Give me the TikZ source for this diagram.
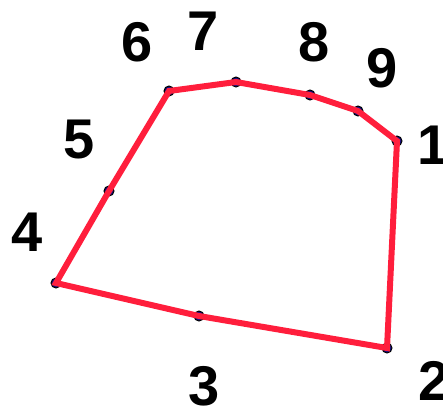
\documentclass[tikz,border=0pt]{standalone}
\usepackage{fontspec}
\setmainfont{Liberation Sans}
\definecolor{polyred}{HTML}{FF1E3C}
\definecolor{marknavy}{HTML}{10108A}
\tikzset{
  vtx/.style={circle,fill=marknavy,draw=black,line width=1pt,minimum size=10pt,inner sep=0pt},
  lbl/.style={inner sep=0pt,font=\fontsize{56}{56}\selectfont\bfseries},
  edge/.style={polyred,line width=6pt,line join=miter}
}
\begin{document}
\begin{tikzpicture}[x=1pt,y=-1pt]
\useasboundingbox (0,0) rectangle (443,412);
\node[vtx] (p1) at (397,141) {};
\node[vtx] (p2) at (387,348) {};
\node[vtx] (p3) at (199,316) {};
\node[vtx] (p4) at (56,283) {};
\node[vtx] (p5) at (109,191) {};
\node[vtx] (p6) at (169,91) {};
\node[vtx] (p7) at (236,82) {};
\node[vtx] (p8) at (310,95) {};
\node[vtx] (p9) at (358,111) {};
\draw[edge] (p1.center) -- (p2.center) -- (p3.center) -- (p4.center) -- (p5.center) -- (p6.center) -- (p7.center) -- (p8.center) -- (p9.center) -- cycle;
\node[lbl] (l1) at (433,145) {1};
\node[lbl] (l2) at (434,381) {2};
\node[lbl] (l3) at (204,386) {3};
\node[lbl] (l4) at (27,232) {4};
\node[lbl] (l5) at (79,140) {5};
\node[lbl] (l6) at (137,42) {6};
\node[lbl] (l7) at (203,31) {7};
\node[lbl] (l8) at (314,42) {8};
\node[lbl] (l9) at (382,68) {9};
\end{tikzpicture}
\end{document}
